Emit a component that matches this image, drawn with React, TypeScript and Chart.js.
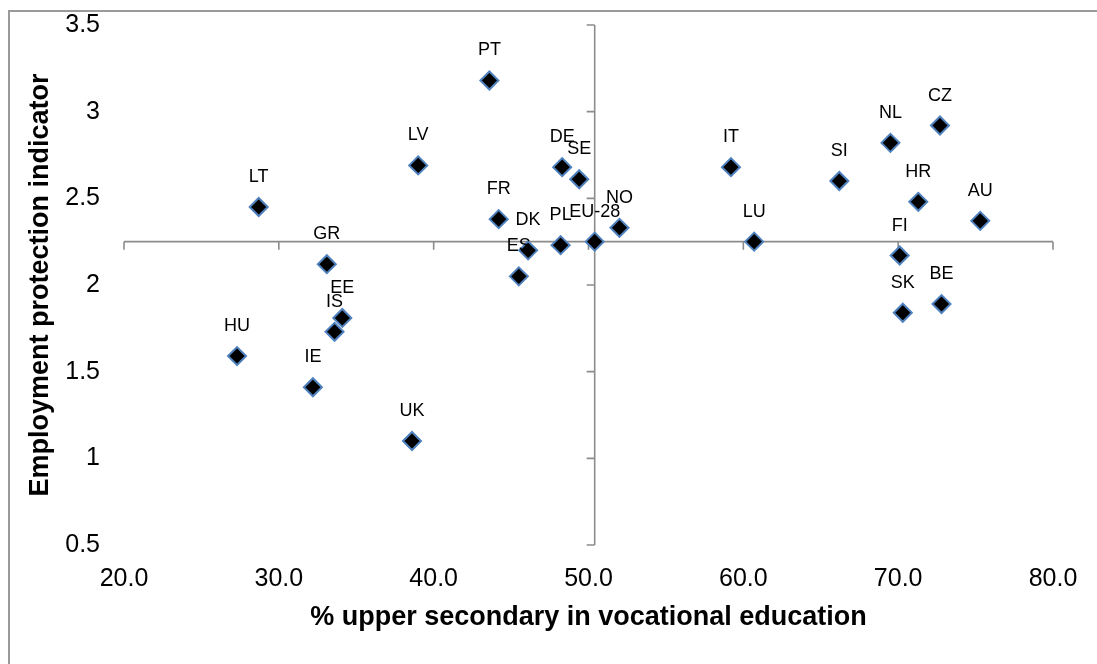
import { useEffect, useRef } from "react";
import { Chart, registerables } from "chart.js";

Chart.register(...registerables);

const countries = ["LT", "PT", "LV", "DE", "SE", "FR", "DK", "ES", "PL", "EU-28", "NO", "IT", "SI", "NL", "CZ", "HR", "AU", "LU", "FI", "SK", "BE", "GR", "EE", "IS", "HU", "IE", "UK"];
const vocationalShare = [28.7, 43.6, 39.0, 48.3, 49.4, 44.2, 46.1, 45.5, 48.2, 50.4, 52.0, 59.2, 66.2, 69.5, 72.7, 71.3, 75.3, 60.7, 70.1, 70.3, 72.8, 33.1, 34.1, 33.6, 27.3, 32.2, 38.6];
const employmentProtection = [2.45, 3.18, 2.69, 2.68, 2.61, 2.38, 2.2, 2.05, 2.23, 2.25, 2.33, 2.68, 2.6, 2.82, 2.92, 2.48, 2.37, 2.25, 2.17, 1.84, 1.89, 2.12, 1.81, 1.73, 1.59, 1.41, 1.1];
const xTicks = [20, 30, 40, 50, 60, 70, 80];
const yTicks = [0.5, 1, 1.5, 2, 2.5, 3, 3.5];
const crossIndex = countries.indexOf("EU-28");

const FONT = '"Liberation Sans", Arial, sans-serif';
const W = 1089;
const H = 656;

const framePlugin = {
  id: "frame",
  beforeDraw(chart: any) {
    const ctx = chart.ctx;
    ctx.save();
    ctx.strokeStyle = "#9a9a9a";
    ctx.lineWidth = 2;
    ctx.beginPath();
    ctx.moveTo(1, chart.height);
    ctx.lineTo(1, 3);
    ctx.lineTo(chart.width, 3);
    ctx.stroke();
    ctx.restore();
  },
};

const crossAxesPlugin = {
  id: "crossAxes",
  beforeDatasetsDraw(chart: any) {
    const { ctx, scales } = chart;
    const x = scales.x;
    const y = scales.y;
    const cx = x.getPixelForValue(vocationalShare[crossIndex]);
    const cy = y.getPixelForValue(employmentProtection[crossIndex]);
    ctx.save();
    ctx.strokeStyle = "#8c8c8c";
    ctx.lineWidth = 1.6;
    ctx.beginPath();
    ctx.moveTo(x.getPixelForValue(xTicks[0]), cy);
    ctx.lineTo(x.getPixelForValue(xTicks[xTicks.length - 1]), cy);
    xTicks.forEach((t) => {
      const px = x.getPixelForValue(t);
      ctx.moveTo(px, cy);
      ctx.lineTo(px, cy + 8);
    });
    ctx.moveTo(cx, y.getPixelForValue(yTicks[0]));
    ctx.lineTo(cx, y.getPixelForValue(yTicks[yTicks.length - 1]));
    yTicks.forEach((t) => {
      const py = y.getPixelForValue(t);
      ctx.moveTo(cx, py);
      ctx.lineTo(cx - 8, py);
    });
    ctx.stroke();
    ctx.restore();
  },
};

const labelPlugin = {
  id: "pointLabels",
  afterDatasetsDraw(chart: any) {
    const ctx = chart.ctx;
    const meta = chart.getDatasetMeta(0);
    ctx.save();
    ctx.font = `18px ${FONT}`;
    ctx.fillStyle = "#000";
    ctx.textAlign = "center";
    ctx.textBaseline = "middle";
    meta.data.forEach((pt: any, i: number) => {
      ctx.fillText(countries[i], pt.x, pt.y - 30);
    });
    ctx.restore();
  },
};

export default function App() {
  const ref = useRef<HTMLCanvasElement | null>(null);

  useEffect(() => {
    if (!ref.current) return;
    const chart = new Chart(ref.current, {
      type: "scatter",
      data: {
        datasets: [
          {
            label: "Countries",
            data: vocationalShare.map((v, i) => ({ x: v, y: employmentProtection[i] })),
            pointStyle: "rectRot",
            pointRadius: 9,
            pointHoverRadius: 9,
            backgroundColor: "#000000",
            borderColor: "#4f81bd",
            borderWidth: 2,
          },
        ],
      },
      options: {
        responsive: false,
        animation: false,
        layout: { padding: { top: 17, right: 44, left: 0, bottom: 0 } },
        plugins: {
          legend: { display: false },
          tooltip: { enabled: false },
        },
        scales: {
          x: {
            type: "linear",
            min: 20,
            max: 80,
            afterBuildTicks: (s: any) => {
              s.ticks = xTicks.map((v) => ({ value: v }));
            },
            ticks: {
              callback: (v: any) => Number(v).toFixed(1),
              font: { size: 25, family: FONT },
              color: "#000",
              padding: 19,
              maxRotation: 0,
            },
            grid: { display: false, drawTicks: false },
            border: { display: false },
            title: {
              display: true,
              text: "% upper secondary in vocational education",
              font: { size: 27, weight: "bold", family: FONT },
              color: "#000",
              padding: { top: 0, bottom: 30 },
            },
            afterFit: (s: any) => {
              s.height = 119;
              s.paddingLeft = 0;
              s.paddingRight = 0;
            },
          },
          y: {
            type: "linear",
            min: 0.5,
            max: 3.5,
            afterBuildTicks: (s: any) => {
              s.ticks = yTicks.map((v) => ({ value: v }));
            },
            ticks: {
              callback: (v: any) => String(v),
              font: { size: 25, family: FONT },
              color: "#000",
              padding: 24,
            },
            grid: { display: false, drawTicks: false },
            border: { display: false },
            title: {
              display: true,
              text: "Employment protection indicator",
              font: { size: 27, weight: "bold", family: FONT },
              color: "#000",
              padding: { top: 16, bottom: 0 },
            },
            afterFit: (s: any) => {
              s.width = 116;
              s.paddingTop = 0;
              s.paddingBottom = 0;
            },
          },
        },
      } as any,
      plugins: [framePlugin, crossAxesPlugin, labelPlugin],
    });
    return () => chart.destroy();
  }, []);

  return (
    <canvas
      ref={ref}
      width={W}
      height={H}
      style={{ display: "block", position: "fixed", left: 8, top: 8 }}
    />
  );
}
